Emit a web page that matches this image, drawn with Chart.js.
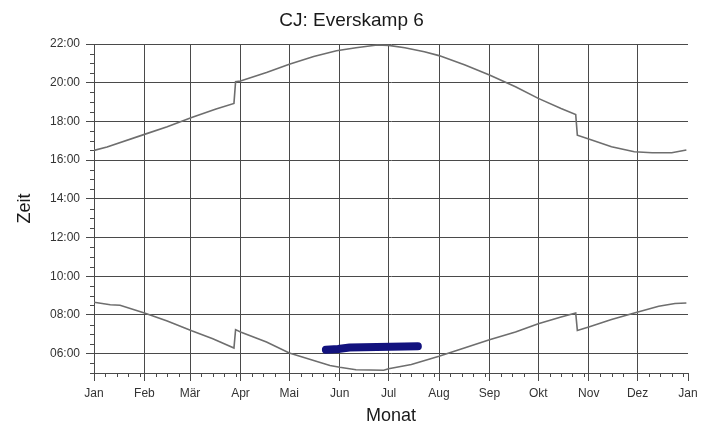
<!DOCTYPE html>
<html lang="de">
<head>
<meta charset="utf-8">
<title>CJ: Everskamp 6</title>
<script src="https://cdn.jsdelivr.net/npm/chart.js@4/dist/chart.umd.min.js"></script>
<style>
  html, body { margin: 0; padding: 0; background: #fff; }
  canvas { display: block; }
</style>
</head>
<body>
<canvas id="sunChart" width="718" height="430"></canvas>
<script>
// Sonnenstand-Zeiten (Tag im Jahr, Uhrzeit in Stunden)

const monthStarts = [0, 31, 59, 90, 120, 151, 181, 212, 243, 273, 304, 334, 365];
const monthLabels = ['Jan', 'Feb', 'Mär', 'Apr', 'Mai', 'Jun', 'Jul', 'Aug', 'Sep', 'Okt', 'Nov', 'Dez', 'Jan'];
const hourTicks = [6, 8, 10, 12, 14, 16, 18, 20, 22];

// upper curve (evening)
const upperDays  = [0, 8, 31, 45, 60, 75, 86, 87, 90, 106, 120, 135, 149, 161, 174, 181, 191, 203, 212, 228, 243, 259, 273, 287, 296, 297, 304, 318, 332, 343, 355, 364];
const upperHours = [16.5, 16.68, 17.33, 17.72, 18.2, 18.64, 18.93, 20.05, 20.09, 20.53, 20.95, 21.35, 21.65, 21.81, 21.95, 21.93, 21.81, 21.6, 21.4, 20.91, 20.4, 19.79, 19.19, 18.67, 18.36, 17.29, 17.09, 16.69, 16.43, 16.38, 16.38, 16.52];

// lower curve (morning)
const lowerDays  = [0, 10, 16, 31, 45, 60, 73, 86, 87, 90, 106, 120, 135, 145, 151, 161, 178, 181, 195, 212, 228, 243, 259, 273, 287, 296, 297, 304, 318, 332, 347, 357, 364];
const lowerHours = [8.66, 8.53, 8.5, 8.1, 7.69, 7.18, 6.77, 6.29, 7.24, 7.12, 6.6, 6.03, 5.65, 5.39, 5.3, 5.17, 5.14, 5.22, 5.44, 5.86, 6.31, 6.72, 7.12, 7.55, 7.89, 8.1, 7.2, 7.38, 7.76, 8.1, 8.45, 8.59, 8.62];

// blue bar (Schattenwurf)
const barDays  = [142.5, 150, 157, 199];
const barHours = [6.2, 6.24, 6.32, 6.38];

const gridColor = '#4a4a4a';
const curveColor = '#6e6e6e';
const fontFamily = "'Liberation Sans', Arial, sans-serif";

function toPoints(xs, ys) {
  return xs.map((x, i) => ({ x: x, y: ys[i] }));
}

function hourLabel(v) {
  return String(v).padStart(2, '0') + ':00';
}

// small ticks between the labelled ones
const minorTicks = {
  id: 'minorTicks',
  afterDraw(chart) {
    const ctx = chart.ctx;
    const xs = chart.scales.x;
    const ys = chart.scales.y;
    const area = chart.chartArea;
    ctx.save();
    ctx.strokeStyle = gridColor;
    ctx.lineWidth = 1;
    ctx.beginPath();
    for (let h = 5; h < 22; h += 0.5) {
      if (h >= 6 && h % 2 === 0) continue;
      const py = Math.round(ys.getPixelForValue(h)) + 0.5;
      ctx.moveTo(area.left - 4, py);
      ctx.lineTo(area.left, py);
    }
    for (let m = 0; m < monthStarts.length - 1; m++) {
      for (let d = monthStarts[m] + 7; d < monthStarts[m + 1] - 2; d += 7) {
        const px = Math.round(xs.getPixelForValue(d)) + 0.5;
        ctx.moveTo(px, area.bottom);
        ctx.lineTo(px, area.bottom + 4);
      }
    }
    ctx.stroke();
    ctx.restore();
  }
};

const ctx = document.getElementById('sunChart').getContext('2d');

new Chart(ctx, {
  type: 'line',
  data: {
    datasets: [
      {
        label: 'Abend',
        data: toPoints(upperDays, upperHours),
        borderColor: curveColor,
        borderWidth: 1.6,
        pointRadius: 0,
        tension: 0
      },
      {
        label: 'Morgen',
        data: toPoints(lowerDays, lowerHours),
        borderColor: curveColor,
        borderWidth: 1.6,
        pointRadius: 0,
        tension: 0
      },
      {
        label: 'Schatten',
        data: toPoints(barDays, barHours),
        borderColor: '#12127e',
        borderWidth: 8,
        borderCapStyle: 'round',
        pointRadius: 0,
        tension: 0
      }
    ]
  },
  options: {
    responsive: false,
    devicePixelRatio: 1,
    animation: false,
    layout: {
      padding: { left: 15, right: 30, top: 0, bottom: 0 }
    },
    plugins: {
      legend: { display: false },
      tooltip: { enabled: false },
      title: {
        display: true,
        text: 'CJ: Everskamp 6',
        color: '#1a1a1a',
        font: { family: fontFamily, size: 19, weight: 'normal', lineHeight: 1.2 },
        padding: { top: 9, bottom: 12.2 }
      }
    },
    scales: {
      x: {
        type: 'linear',
        min: 0,
        max: 365,
        afterBuildTicks: scale => {
          scale.ticks = monthStarts.map(v => ({ value: v }));
        },
        afterFit: scale => {
          scale.height = 57;
        },
        ticks: {
          autoSkip: false,
          maxRotation: 0,
          padding: 5,
          color: '#333',
          font: { family: fontFamily, size: 12 },
          callback: (v, i) => monthLabels[i]
        },
        grid: {
          color: c => (c.tick && c.tick.value === 365 ? 'rgba(0,0,0,0)' : gridColor),
          tickColor: gridColor,
          tickLength: 8,
          lineWidth: 1
        },
        border: { color: gridColor, width: 1 },
        title: {
          display: true,
          text: 'Monat',
          color: '#1a1a1a',
          font: { family: fontFamily, size: 18, lineHeight: 1.2 },
          padding: { top: 0, bottom: 3 }
        }
      },
      y: {
        type: 'linear',
        min: 5,
        max: 22,
        afterBuildTicks: scale => {
          scale.ticks = hourTicks.map(v => ({ value: v }));
        },
        afterFit: scale => {
          scale.width = 79;
        },
        ticks: {
          autoSkip: false,
          padding: 6,
          color: '#333',
          font: { family: fontFamily, size: 12 },
          callback: v => hourLabel(v)
        },
        grid: {
          color: gridColor,
          tickColor: gridColor,
          tickLength: 8,
          lineWidth: 1
        },
        border: { color: gridColor, width: 1 },
        title: {
          display: true,
          text: 'Zeit',
          color: '#1a1a1a',
          font: { family: fontFamily, size: 18, lineHeight: 1 },
          padding: { top: 1, bottom: 0 }
        }
      }
    }
  },
  plugins: [minorTicks]
});
</script>
</body>
</html>
